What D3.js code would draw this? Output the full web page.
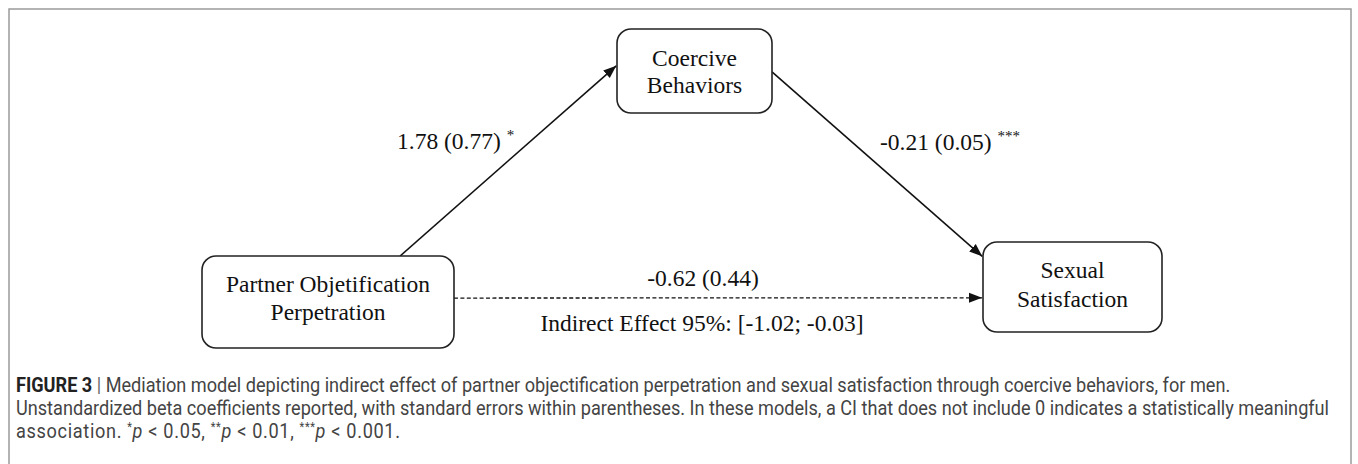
<!DOCTYPE html>
<html>
<head>
<meta charset="utf-8">
<script src="https://cdn.jsdelivr.net/npm/d3@7"></script>
<style>
  html, body { margin: 0; padding: 0; background: #ffffff; }
  svg { display: block; }
</style>
</head>
<body>
<svg id="chart" width="1358" height="464"></svg>
<script>
// ---------------- DATA ----------------
const nodeIds = ["X", "M", "Y"];
const nodeLabels = [
  ["Partner Objetification", "Perpetration"],
  ["Coercive", "Behaviors"],
  ["Sexual", "Satisfaction"]
];
const pathFrom = ["X", "M", "X"];
const pathTo = ["M", "Y", "Y"];
const coefficients = [1.78, -0.21, -0.62];
const standardErrors = [0.77, 0.05, 0.44];
const significance = ["*", "***", ""];
const pathDashed = [false, false, true];
const indirectLabel = "Indirect Effect 95%:";
const indirectCI = [-1.02, -0.03];
const captionTitle = "FIGURE 3";
const captionLine1 = "Mediation model depicting indirect effect of partner objectification perpetration and sexual satisfaction through coercive behaviors, for men.";
const captionLine2 = "Unstandardized beta coefficients reported, with standard errors within parentheses. In these models, a CI that does not include 0 indicates a statistically meaningful";
const captionPLevels = ["0.05", "0.01", "0.001"];

// ---------------- LAYOUT (positions & styles) ----------------
const svg = d3.select("#chart");
const boxes = {
  X: { x0: 202, x1: 454, y0: 256, y1: 348, base: [292, 320] },
  M: { x0: 617, x1: 772, y0: 29, y1: 113, base: [66, 93] },
  Y: { x0: 983, x1: 1162, y0: 242, y1: 332, base: [278, 307] }
};
const attachFrom = [["top", 0.786], ["right", 0.51], ["right", 0.457]];
const attachTo = [["left", 0.43], ["left", 0.167], ["left", 0.62]];
const labelPos = [
  { x: 397, y: 149, anchor: "start" },
  { x: 880, y: 150, anchor: "start" },
  { x: 703, y: 286, anchor: "middle" }
];
const ciPos = { x: 702, y: 331 };
const serif = "'Liberation Serif', 'Times New Roman', serif";
const sans = "Roboto, 'Liberation Sans', Arial, sans-serif";
const fs = 23.5;

function attachPoint(id, spec) {
  const b = boxes[id];
  const [side, f] = spec;
  if (side === "top") return [b.x0 + f * (b.x1 - b.x0), b.y0];
  if (side === "bottom") return [b.x0 + f * (b.x1 - b.x0), b.y1];
  if (side === "left") return [b.x0, b.y0 + f * (b.y1 - b.y0)];
  return [b.x1, b.y0 + f * (b.y1 - b.y0)];
}

// outer frame
svg.append("rect")
  .attr("x", 9).attr("y", 9)
  .attr("width", 1342).attr("height", 480)
  .attr("fill", "none").attr("stroke", "#9b9b9b").attr("stroke-width", 1.5);

// arrow marker
const defs = svg.append("defs");
defs.append("marker")
  .attr("id", "arrow")
  .attr("markerUnits", "userSpaceOnUse")
  .attr("viewBox", "-13 -6 14 12")
  .attr("refX", 0).attr("refY", 0)
  .attr("markerWidth", 14).attr("markerHeight", 12)
  .attr("orient", "auto")
  .append("path")
  .attr("d", "M0,0 L-13,-5 L-13,5 Z")
  .attr("fill", "#111");

// paths
const lineGen = d3.line();
const paths = pathFrom.map((f, i) => {
  const p0 = attachPoint(f, attachFrom[i]);
  const p1 = attachPoint(pathTo[i], attachTo[i]);
  return { p0, p1, dashed: pathDashed[i] };
});
svg.append("g").selectAll("path.edge")
  .data(paths)
  .join("path")
  .attr("class", "edge")
  .attr("d", d => {
    const dx = d.p1[0] - d.p0[0], dy = d.p1[1] - d.p0[1];
    const L = Math.hypot(dx, dy);
    const e = [d.p1[0] - dx / L * 1, d.p1[1] - dy / L * 1];
    return lineGen([d.p0, e]);
  })
  .attr("fill", "none")
  .attr("stroke", "#111")
  .attr("stroke-width", d => d.dashed ? 1.3 : 1.6)
  .attr("stroke-dasharray", d => d.dashed ? "4,2.4" : null)
  .attr("marker-end", "url(#arrow)");

// boxes
const nodeG = svg.append("g").selectAll("g.node")
  .data(nodeIds)
  .join("g").attr("class", "node");
nodeG.append("rect")
  .attr("x", d => boxes[d].x0).attr("y", d => boxes[d].y0)
  .attr("width", d => boxes[d].x1 - boxes[d].x0)
  .attr("height", d => boxes[d].y1 - boxes[d].y0)
  .attr("rx", 14).attr("ry", 14)
  .attr("fill", "#fff").attr("stroke", "#222").attr("stroke-width", 1.6);
nodeG.each(function(d, i) {
  const b = boxes[d];
  d3.select(this).selectAll("text")
    .data(nodeLabels[i])
    .join("text")
    .attr("x", (b.x0 + b.x1) / 2)
    .attr("y", (t, j) => b.base[j])
    .attr("text-anchor", "middle")
    .attr("font-family", serif)
    .attr("font-size", fs)
    .attr("fill", "#111")
    .text(t => t);
});

// coefficient labels (hyphen-minus, as in the original)
const locale = d3.formatLocale({ decimal: ".", thousands: ",", grouping: [3], currency: ["", ""], minus: "-" });
const fmt = locale.format(".2f");
paths.forEach((p, i) => {
  const t = svg.append("text")
    .attr("x", labelPos[i].x).attr("y", labelPos[i].y)
    .attr("text-anchor", labelPos[i].anchor)
    .attr("font-family", serif).attr("font-size", fs).attr("fill", "#111");
  t.append("tspan").text(`${fmt(coefficients[i])} (${fmt(standardErrors[i])})`);
  if (significance[i]) {
    t.append("tspan").text(" ");
    t.append("tspan").attr("font-size", 15).attr("dy", -9).text(significance[i]);
  }
});

// indirect effect CI
svg.append("text")
  .attr("x", ciPos.x).attr("y", ciPos.y)
  .attr("text-anchor", "middle")
  .attr("font-family", serif).attr("font-size", fs).attr("fill", "#111")
  .text(`${indirectLabel} [${fmt(indirectCI[0])}; ${fmt(indirectCI[1])}]`);

// caption
const capG = svg.append("g");
const capX = 16, capBase = [392, 415, 438];
const capFill = "#444";
const capFs = 20;
const l1 = capG.append("text").attr("x", capX).attr("y", capBase[0])
  .attr("font-family", sans).attr("font-size", capFs).attr("fill", capFill);
l1.append("tspan").attr("font-weight", "bold").attr("fill", "#222").text(captionTitle);
l1.append("tspan").attr("fill", "#666").text(" | ");
l1.append("tspan").text(captionLine1);
const l2 = capG.append("text").attr("x", capX).attr("y", capBase[1])
  .attr("font-family", sans).attr("font-size", capFs).attr("fill", capFill)
  .text(captionLine2);
const l3 = capG.append("text").attr("x", capX).attr("y", capBase[2])
  .attr("font-family", sans).attr("font-size", capFs).attr("fill", capFill);
l3.append("tspan").text("association. ");
const stars = ["*", "**", "***"];
captionPLevels.forEach((v, i) => {
  l3.append("tspan").attr("font-size", 12).attr("dy", -7).text(stars[i]);
  l3.append("tspan").attr("font-style", "italic").attr("dy", 7).text("p");
  l3.append("tspan").text(` < ${v}` + (i < captionPLevels.length - 1 ? ", " : "."));
});
// horizontal condensing so line 2 spans the target width
const target2 = 1330 - capX;
const nat2 = l2.node().getComputedTextLength();
const sx = target2 / nat2;
// line 3 in the original is spaced a bit wider
l3.attr("textLength", (400 - capX) / sx).attr("lengthAdjust", "spacing");
[l1, l2, l3].forEach(t => t.attr("transform", `translate(${capX},0) scale(${sx},1) translate(${-capX},0)`));
</script>
</body>
</html>
